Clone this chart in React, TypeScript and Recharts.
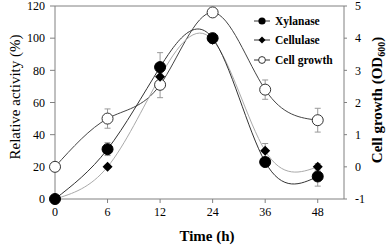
import React from 'react'
import { ComposedChart, Line, XAxis, YAxis, ErrorBar, ReferenceLine } from 'recharts'

// sampling times (h), drawn evenly spaced like the original figure
const hours = ['0', '6', '12', '24', '36', '48']

// relative activity (%)
const xylanase = [0, 31, 82, 100, 23, 14]
const xylanaseErr = [0, 4, 9, 3, 2, 6]
const cellulase = [0, 20, 76, 99, 30, 20]
const cellulaseErr = [0, 1, 3, 2, 4.5, 2]

// cell growth (OD600)
const growth = [0, 1.5, 2.55, 4.8, 2.4, 1.45]
const growthErr = [0, 0.3, 0.4, 0.1, 0.3, 0.37]

const leftTicks = [0, 20, 40, 60, 80, 100, 120]
const rightTicks = [-1, 0, 1, 2, 3, 4, 5]

const data = hours.map((h, i) => ({
  idx: i,
  hour: h,
  xylanase: xylanase[i],
  xylanaseErr: xylanaseErr[i],
  cellulase: cellulase[i],
  cellulaseErr: cellulaseErr[i],
  growth: growth[i],
  growthErr: growthErr[i],
}))

const FONT = '"Liberation Serif", "Times New Roman", serif'
const AXIS = '#808080'
const TICK = { fill: '#000', fontFamily: FONT, fontSize: 12 }

const FilledDot = (p: any) => (
  <circle key={p.key ?? p.index} cx={p.cx} cy={p.cy} r={5.5} fill="#000" stroke="#000" />
)
const OpenDot = (p: any) => (
  <circle key={p.key ?? p.index} cx={p.cx} cy={p.cy} r={5.5} fill="#fff" stroke="#333" strokeWidth={1} />
)
const Diamond = (p: any) => (
  <path
    key={p.key ?? p.index}
    d={`M${p.cx},${p.cy - 5} L${p.cx + 5},${p.cy} L${p.cx},${p.cy + 5} L${p.cx - 5},${p.cy} Z`}
    fill="#000"
  />
)

const legendItems = [
  { name: 'Xylanase', kind: 'filled' },
  { name: 'Cellulase', kind: 'diamond' },
  { name: 'Cell growth', kind: 'open' },
]

// legend drawn on top of the chart, upper right inside the frame
function LegendBox() {
  return (
    <div style={{ position: 'absolute', left: 254, top: 11, fontFamily: FONT, fontWeight: 'bold', fontSize: 11.5 }}>
      {legendItems.map((it) => (
        <div key={it.name} style={{ display: 'flex', alignItems: 'center', height: 19.5 }}>
          <svg width={16} height={10} style={{ marginRight: 5 }}>
            <line x1={0} y1={5} x2={16} y2={5} stroke="#333" />
            {it.kind === 'filled' && <circle cx={8} cy={5} r={3.6} fill="#000" />}
            {it.kind === 'diamond' && <path d="M8,1.5 L11.5,5 L8,8.5 L4.5,5 Z" fill="#000" />}
            {it.kind === 'open' && <circle cx={8} cy={5} r={3.4} fill="#fff" stroke="#333" />}
          </svg>
          <span>{it.name}</span>
        </div>
      ))}
    </div>
  )
}

export default function App() {
  return (
    <div style={{ position: 'absolute', left: 0, top: 0, width: 387, height: 245 }}>
      <ComposedChart width={387} height={245} data={data} margin={{ top: 6, right: 0, bottom: 0, left: 0 }}>
        <XAxis
          dataKey="idx"
          type="number"
          domain={[0, 5.5]}
          ticks={[0, 1, 2, 3, 4, 5]}
          interval={0}
          tickFormatter={(v: number) => hours[v]}
          height={46}
          stroke={AXIS}
          tickSize={4}
          tickMargin={4}
          tick={TICK}
          label={{
            content: () => (
              <text x={207} y={241} textAnchor="middle" fontFamily={FONT} fontWeight="bold" fontSize={15} fill="#000">
                Time (h)
              </text>
            ),
          }}
        />
        <YAxis
          yAxisId="left"
          domain={[0, 120]}
          ticks={leftTicks}
          interval={0}
          width={55}
          stroke={AXIS}
          tickSize={5}
          tickMargin={5}
          tick={TICK}
          label={{
            content: () => (
              <text
                x={0}
                y={0}
                transform="translate(20,97) rotate(-90)"
                textAnchor="middle"
                fontFamily={FONT}
                fontSize={15}
                fill="#000"
              >
                Relative activity (%)
              </text>
            ),
          }}
        />
        <YAxis
          yAxisId="right"
          orientation="right"
          domain={[-1, 5]}
          ticks={rightTicks}
          interval={0}
          width={43}
          stroke={AXIS}
          tickSize={3}
          tickMargin={8}
          tick={TICK}
          label={{
            content: () => (
              <text
                x={0}
                y={0}
                transform="translate(382,100) rotate(-90)"
                textAnchor="middle"
                fontFamily={FONT}
                fontWeight="bold"
                fontSize={15}
                fill="#000"
              >
                <tspan>Cell growth (OD</tspan>
                <tspan fontSize={10} dy={3}>600</tspan>
                <tspan dy={-3}>)</tspan>
              </text>
            ),
          }}
        />
        <ReferenceLine yAxisId="left" y={120} stroke={AXIS} ifOverflow="visible" />
        <Line
          yAxisId="right"
          type="natural"
          dataKey="growth"
          stroke="#444"
          strokeWidth={1}
          dot={OpenDot}
          activeDot={false}
          isAnimationActive={false}
        >
          <ErrorBar dataKey="growthErr" direction="y" width={3} stroke="#999" strokeWidth={1} />
        </Line>
        <Line
          yAxisId="left"
          type="natural"
          dataKey="cellulase"
          stroke="#aaa"
          strokeWidth={1}
          dot={Diamond}
          activeDot={false}
          isAnimationActive={false}
        >
          <ErrorBar dataKey="cellulaseErr" direction="y" width={3} stroke="#999" strokeWidth={1} />
        </Line>
        <Line
          yAxisId="left"
          type="natural"
          dataKey="xylanase"
          stroke="#333"
          strokeWidth={1}
          dot={FilledDot}
          activeDot={false}
          isAnimationActive={false}
        >
          <ErrorBar dataKey="xylanaseErr" direction="y" width={3} stroke="#999" strokeWidth={1} />
        </Line>
      </ComposedChart>
      <LegendBox />
    </div>
  )
}
